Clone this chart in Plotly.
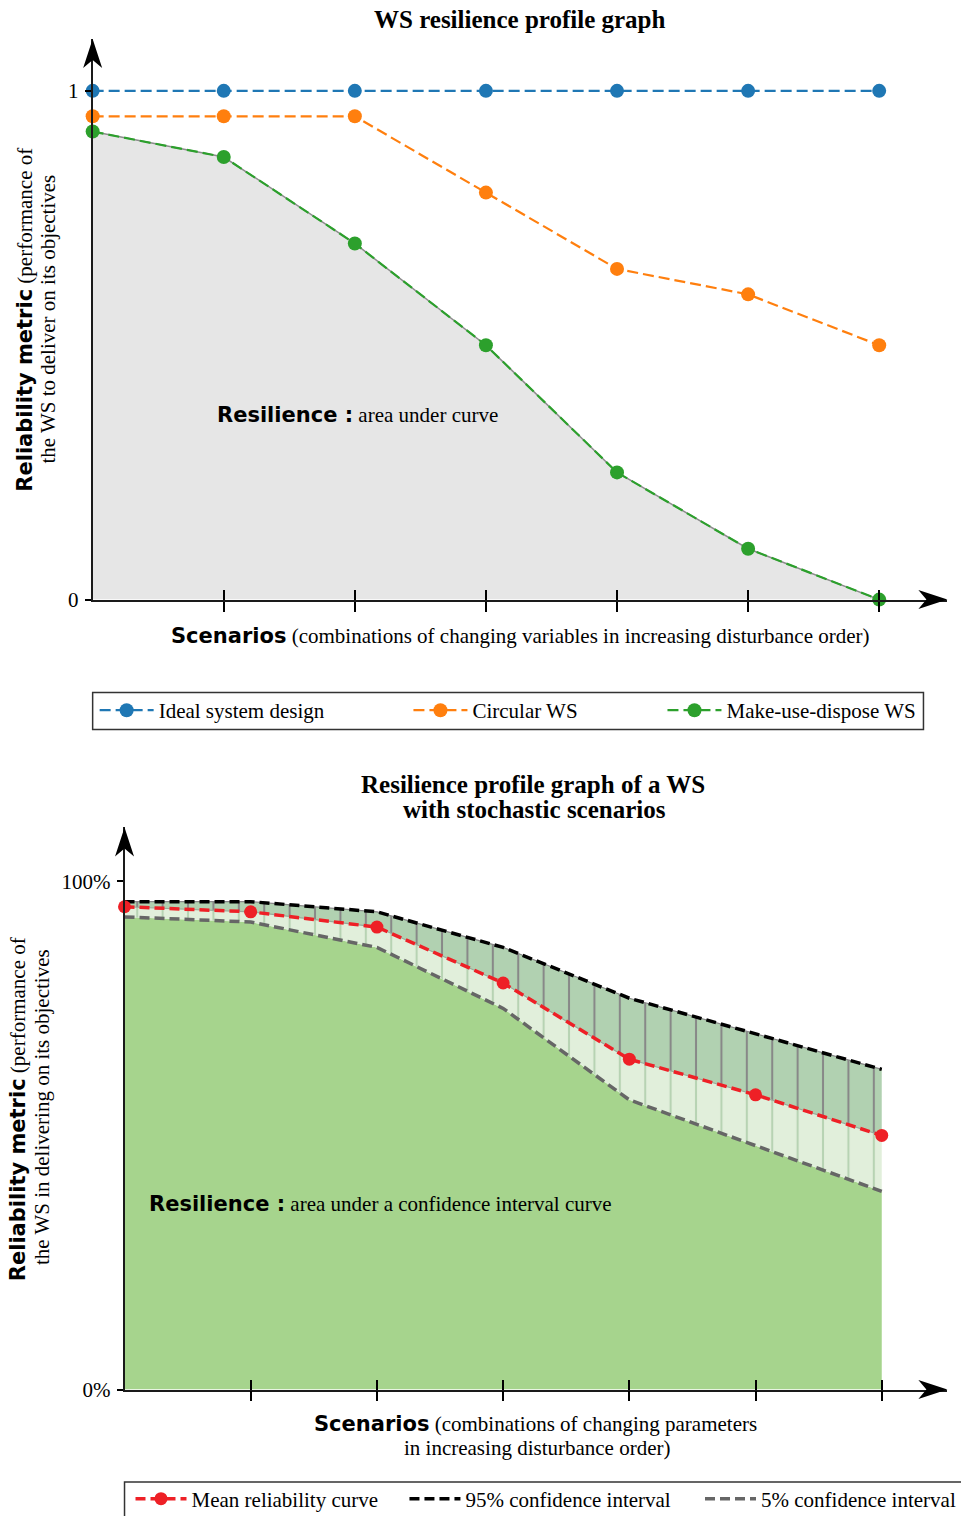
import plotly.graph_objects as go

W, H = 961, 1516          # reference picture size
HF = 1527                 # figure height (the page is photographed into 1516 px)
KX = 1.0035               # small horizontal correction for the photograph

# ---------------- data ----------------
scenarios = [0, 1, 2, 3, 4, 5, 6]
ideal_design = [1.0, 1.0, 1.0, 1.0, 1.0, 1.0, 1.0]
circular_ws = [0.95, 0.95, 0.95, 0.80, 0.65, 0.60, 0.50]
make_use_dispose_ws = [0.92, 0.87, 0.70, 0.50, 0.25, 0.10, 0.00]

stoch_scenarios = [0, 1, 2, 3, 4, 5, 6]
mean_reliability = [0.95, 0.94, 0.91, 0.80, 0.65, 0.58, 0.50]
ci_95 = [0.96, 0.96, 0.94, 0.87, 0.77, 0.70, 0.63]
ci_5 = [0.93, 0.92, 0.87, 0.75, 0.57, 0.48, 0.39]

top_y_ticks = [0, 1]
top_y_labels = ["0", "1"]
bot_y_ticks = [0, 1]
bot_y_labels = ["0%", "100%"]
x_tick_vals = [1, 2, 3, 4, 5, 6]

# ---------------- helpers ----------------
def px(p):
    return p * KX / W

def py(p):
    return 1 - p / H

SERIF = "Liberation Serif"
FS = 21

def bsans(t):
    return '<span style="font-family:DejaVu Sans"><b>' + t + '</b></span>'

BLUE, ORANGE, GREEN = "#1f77b4", "#ff7f0e", "#2ca02c"
RED = "#ee2026"

fig = go.Figure()

# ---------------- top chart ----------------
fig.add_trace(go.Scatter(
    x=scenarios, y=make_use_dispose_ws, mode="lines", fill="tozeroy",
    fillcolor="#e6e6e6", line=dict(color="#8c8c8c", width=1.5),
    showlegend=False, hoverinfo="skip", xaxis="x", yaxis="y", cliponaxis=False))

top_series = [
    ("Ideal system design", ideal_design, BLUE, "legend"),
    ("Circular WS", circular_ws, ORANGE, "legend2"),
    ("Make-use-dispose WS", make_use_dispose_ws, GREEN, "legend3"),
]
for name, vals, col, lg in top_series:
    fig.add_trace(go.Scatter(
        x=scenarios, y=vals, mode="lines+markers", name=name,
        line=dict(color=col, width=2.2, dash="11px,5px"),
        marker=dict(color=col, size=14), legend=lg,
        xaxis="x", yaxis="y", cliponaxis=False))

fig.add_trace(go.Scatter(x=[], y=[], xaxis="x3", yaxis="y", showlegend=False, hoverinfo="skip"))

# ---------------- bottom chart ----------------
fig.add_trace(go.Scatter(
    x=stoch_scenarios, y=ci_5, mode="lines", fill="tozeroy",
    fillcolor="#a6d48d", line=dict(width=0, color="#a6d48d"),
    showlegend=False, hoverinfo="skip", xaxis="x2", yaxis="y2"))
fig.add_trace(go.Scatter(
    x=stoch_scenarios, y=mean_reliability, mode="lines", fill="tonexty",
    fillcolor="#e1efdb",
    fillpattern=dict(shape="|", bgcolor="#e1efdb", fgcolor="#b7d3b3",
                     fgopacity=1, size=25.4, solidity=0.08),
    line=dict(width=1.2, color="#9aa89a"),
    showlegend=False, hoverinfo="skip", xaxis="x2", yaxis="y2"))
fig.add_trace(go.Scatter(
    x=stoch_scenarios, y=ci_95, mode="lines", fill="tonexty",
    fillcolor="#b1d1b1",
    fillpattern=dict(shape="|", bgcolor="#b1d1b1", fgcolor="#888888",
                     fgopacity=1, size=25.4, solidity=0.08),
    line=dict(width=1.2, color="#888888"),
    showlegend=False, hoverinfo="skip", xaxis="x2", yaxis="y2"))

fig.add_trace(go.Scatter(
    x=stoch_scenarios, y=ci_5, mode="lines", name="5% confidence interval",
    line=dict(color="#666666", width=3.5, dash="10px,5px"), legend="legend6",
    xaxis="x2", yaxis="y2", cliponaxis=False))
fig.add_trace(go.Scatter(
    x=stoch_scenarios, y=ci_95, mode="lines", name="95% confidence interval",
    line=dict(color="#000000", width=3.5, dash="10px,5px"), legend="legend5",
    xaxis="x2", yaxis="y2", cliponaxis=False))
fig.add_trace(go.Scatter(
    x=stoch_scenarios, y=mean_reliability, mode="lines+markers", name="Mean reliability curve",
    line=dict(color=RED, width=3.5, dash="10px,5px"), marker=dict(color=RED, size=13),
    legend="legend4", xaxis="x2", yaxis="y2", cliponaxis=False))

fig.add_trace(go.Scatter(x=[], y=[], xaxis="x4", yaxis="y2", showlegend=False, hoverinfo="skip"))

# ---------------- axes ----------------
tickfont = dict(family=SERIF, size=FS, color="black")
common_x = dict(range=[0, 6.52], showgrid=False, zeroline=False, tickvals=x_tick_vals,
                showticklabels=False, ticklen=10, tickwidth=1.5, tickcolor="black",
                fixedrange=True)
common_y = dict(showgrid=False, zeroline=False, ticks="outside", ticklen=6, tickwidth=1.5,
                tickcolor="black", tickfont=tickfont, showline=True, linecolor="#1a1a1a",
                linewidth=1.8, fixedrange=True, ticklabelstandoff=2)

top_xdom = [px(93), px(951)]
top_ydom = [py(600), py(39)]
bot_xdom = [px(125), px(951)]
bot_ydom = [py(1390.5), py(828)]

fig.update_layout(
    xaxis=dict(domain=top_xdom, anchor="y", ticks="outside", showline=True,
               linecolor="#1a1a1a", linewidth=1.8, **common_x),
    xaxis3=dict(overlaying="x", anchor="y", ticks="inside", showline=False, **common_x),
    yaxis=dict(domain=top_ydom, anchor="x", range=[0, 1.102], tickvals=top_y_ticks,
               ticktext=top_y_labels, **common_y),
    xaxis2=dict(domain=bot_xdom, anchor="y2", ticks="outside", showline=True,
                linecolor="#1a1a1a", linewidth=1.8, **common_x),
    xaxis4=dict(overlaying="x2", anchor="y2", ticks="inside", showline=False, **common_x),
    yaxis2=dict(domain=bot_ydom, anchor="x2", range=[0, 1.106], tickvals=bot_y_ticks,
                ticktext=bot_y_labels, **common_y),
)

# ---------------- arrows / boxes ----------------
shapes = []
def xarrow(xa, ya):
    return dict(type="path", xref="paper", yref="paper", xsizemode="pixel", ysizemode="pixel",
                xanchor=xa, yanchor=ya, path="M0,0 L-29,9.5 L-21,0 L-29,-9.5 Z",
                fillcolor="black", line=dict(width=0))
def yarrow(xa, ya):
    return dict(type="path", xref="paper", yref="paper", xsizemode="pixel", ysizemode="pixel",
                xanchor=xa, yanchor=ya, path="M0,0 L9.5,-29 L0,-21 L-9.5,-29 Z",
                fillcolor="black", line=dict(width=0))
shapes += [xarrow(px(951), py(600)), yarrow(px(93), py(39)),
           xarrow(px(951), py(1390.5)), yarrow(px(125), py(828))]
shapes.append(dict(type="rect", xref="paper", yref="paper", x0=px(93), x1=px(927),
                   y0=py(730), y1=py(693), line=dict(color="#333333", width=1.5)))
shapes.append(dict(type="rect", xref="paper", yref="paper", x0=px(125), x1=px(990),
                   y0=py(1540), y1=py(1483), line=dict(color="#333333", width=1.5)))

# ---------------- legends ----------------
def leg(xp, yp, iw):
    return dict(x=px(xp), y=py(yp), xanchor="left", yanchor="middle", orientation="h",
                bgcolor="rgba(0,0,0,0)", borderwidth=0, itemwidth=iw,
                font=dict(family=SERIF, size=FS, color="black"))

# ---------------- annotations ----------------
def txt(x, y, text, size=FS, xanchor="center", angle=0):
    return dict(x=px(x), y=py(y), xref="paper", yref="paper", text=text, showarrow=False,
                xanchor=xanchor, yanchor="middle", textangle=angle,
                font=dict(family=SERIF, size=size, color="black"))

ann = [
    txt(522, 20, "<b>WS resilience profile graph</b>", size=25),
    txt(25, 320, bsans("Reliability metric") + " (performance of", angle=-90),
    txt(48, 319, "the WS to deliver on its objectives", angle=-90),
    txt(522, 636, bsans("Scenarios") + " (combinations of changing variables in increasing disturbance order)"),
    txt(216, 415, bsans("Resilience :") + " area under curve", xanchor="left"),
    txt(535, 785, "<b>Resilience profile graph of a WS</b>", size=25),
    txt(537, 810, "<b>with stochastic scenarios</b>", size=25),
    txt(18, 1110, bsans("Reliability metric") + " (performance of", angle=-90),
    txt(42, 1108, "the WS in delivering on its objectives", angle=-90),
    txt(538, 1425, bsans("Scenarios") + " (combinations of changing parameters"),
    txt(539, 1449, "in increasing disturbance order)"),
    txt(148, 1205, bsans("Resilience :") + " area under a confidence interval curve", xanchor="left"),
]

fig.update_layout(
    width=W, height=HF, margin=dict(l=0, r=0, t=0, b=0),
    paper_bgcolor="white", plot_bgcolor="white",
    font=dict(family=SERIF, size=FS, color="black"),
    shapes=shapes, annotations=ann,
    legend=leg(95, 711, 54), legend2=leg(410, 711, 54), legend3=leg(665, 711, 54),
    legend4=leg(131, 1500, 51), legend5=leg(406, 1500, 51), legend6=leg(703, 1500, 51),
)

fig.write_html("out.html", config={"displayModeBar": False},
               post_script="document.body.style.margin='0px';document.body.style.overflow='hidden';")
